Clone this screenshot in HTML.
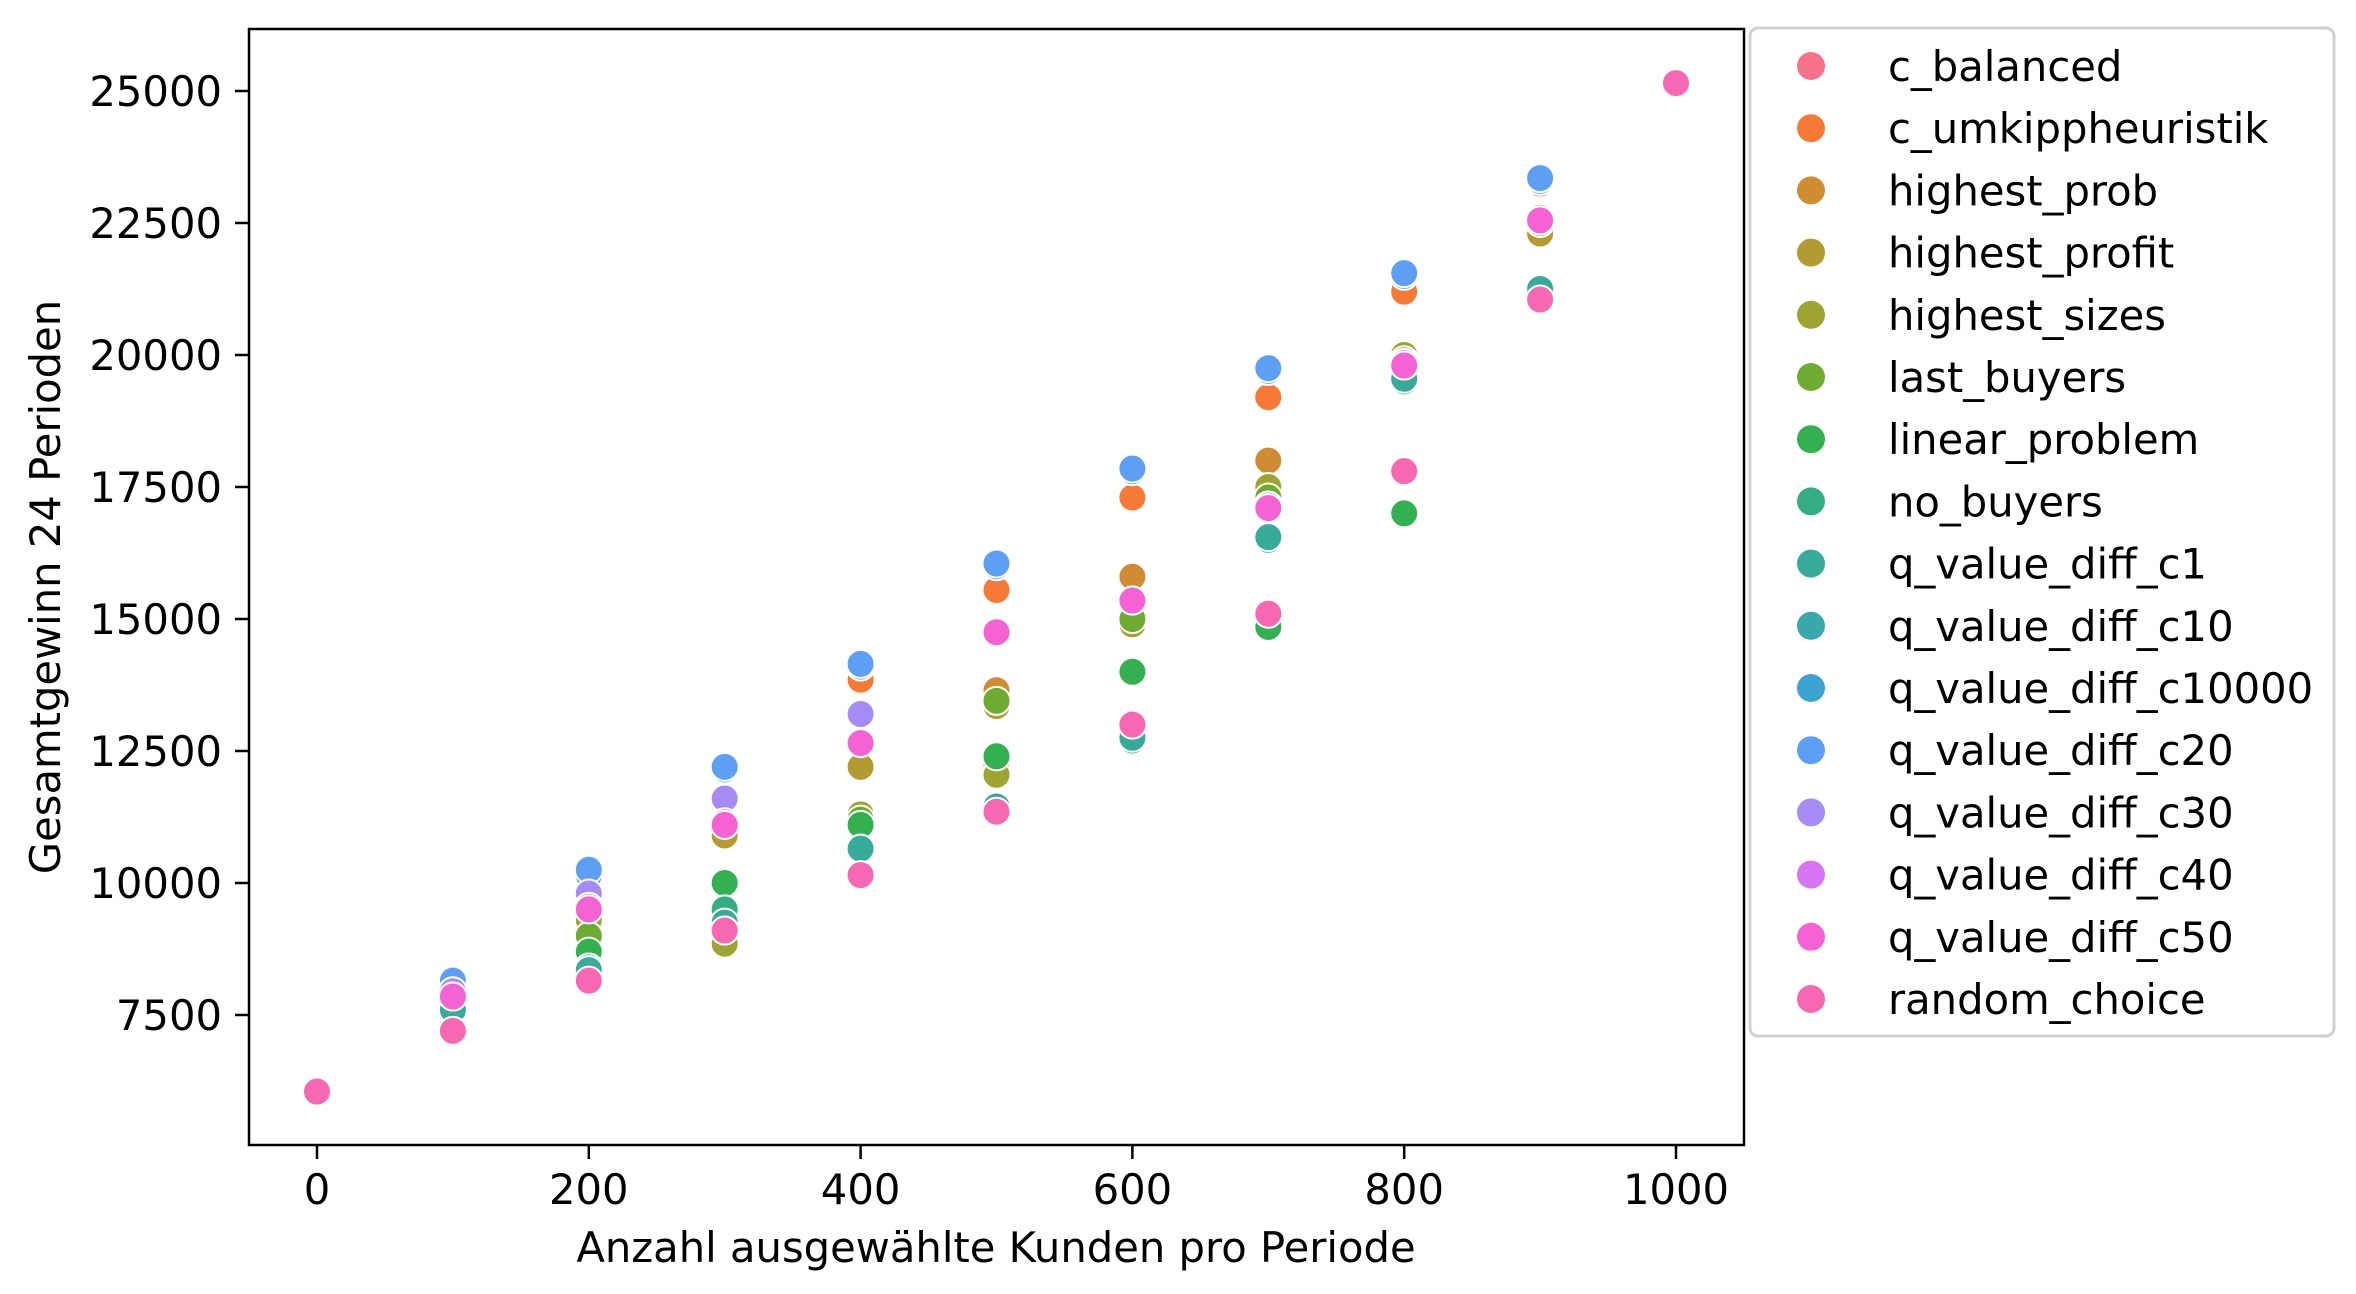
<!DOCTYPE html>
<html><head><meta charset="utf-8"><style>
html,body{margin:0;padding:0;background:#fff}
svg{display:block;font-family:"DejaVu Sans","Liberation Sans",sans-serif}
</style></head><body>
<svg id="chart" width="2356" height="1294" viewBox="0 0 2356 1294">
<rect width="2356" height="1294" fill="#fff"/>
<g id="marks"></g>
<rect x="249" y="29" width="1495" height="1116" fill="none" stroke="#000" stroke-width="2.5"/>
<g id="xaxis"></g>
<g id="yaxis"></g>
<text x="996" y="1262" font-size="41.7" text-anchor="middle">Anzahl ausgewählte Kunden pro Periode</text>
<text transform="translate(60,587) rotate(-90)" font-size="41.7" text-anchor="middle">Gesamtgewinn 24 Perioden</text>
<rect x="1750" y="28" width="584" height="1008" rx="8" fill="#fff" stroke="#d0d0d0" stroke-width="3"/>
<g id="legend"></g>
</svg>
<script>
const xValues = [0,100,200,300,400,500,600,700,800,900,1000];
const xTicks = [0,200,400,600,800,1000];
const yTicks = [7500,10000,12500,15000,17500,20000,22500,25000];
const seriesNames = ["c_balanced","c_umkippheuristik","highest_prob","highest_profit","highest_sizes","last_buyers","linear_problem","no_buyers","q_value_diff_c1","q_value_diff_c10","q_value_diff_c10000","q_value_diff_c20","q_value_diff_c30","q_value_diff_c40","q_value_diff_c50","random_choice"];
const seriesColors = ["#f77189","#f67a35","#d08c32","#b39a31","#9da431","#6eab31","#33b050","#35ad82","#37aa9b","#38a8ad","#3ba3cf","#5d9ff3","#a48cf4","#d774f4","#f562d4","#f668b2"];
const cBalanced = [6050,7800,9450,11150,12200,12250,15000,17300,19900,22500,25150];
const cUmkipp = [6050,7900,10200,12150,13850,15550,17300,19200,21200,23250,25150];
const highestProb = [6050,7800,9400,11200,12200,13650,15800,18000,19950,22400,25150];
const highestProfit = [6050,7750,9400,10900,12200,13350,14900,17400,19950,22300,25150];
const highestSizes = [6050,7700,9300,8850,11300,12050,14900,17500,20000,22600,25150];
const lastBuyers = [6050,7600,9000,9200,11200,13450,15000,17300,19900,22500,25150];
const linearProblem = [6050,7450,8700,10000,11100,12400,14000,14850,17000,21250,25150];
const noBuyers = [6050,7550,8400,9500,10650,11400,12700,16500,19500,21200,25150];
const qC1 = [6050,7600,8350,9250,10650,11450,12750,16550,19550,21250,25150];
const qC10 = [6050,8100,10150,12150,14100,16000,17800,19700,21500,23300,25150];
const qC10000 = [6050,8100,10150,12150,14100,16000,17800,19700,21500,23300,25150];
const qC20 = [6050,8150,10250,12200,14150,16050,17850,19750,21550,23350,25150];
const qC30 = [6050,7950,9800,11600,13200,14750,15350,17150,19850,22550,25150];
const qC40 = [6050,7850,9550,11150,12650,14750,15350,17100,19800,22550,25150];
const qC50 = [6050,7850,9500,11100,12650,14750,15350,17100,19800,22550,25150];
const randomChoice = [6050,7200,8150,9100,10150,11350,13000,15100,17800,21050,25150];
const allSeries = [cBalanced,cUmkipp,highestProb,highestProfit,highestSizes,lastBuyers,linearProblem,noBuyers,qC1,qC10,qC10000,qC20,qC30,qC40,qC50,randomChoice];

const NS="http://www.w3.org/2000/svg";
function xScale(v){return 317+(v-0)*(1676-317)/1000;}
function yScale(v){return 1015-(v-7500)*(1015-91)/17500;}
function mk(tag,attrs,parent){const e=document.createElementNS(NS,tag);for(const k in attrs)e.setAttribute(k,attrs[k]);parent.appendChild(e);return e;}

const marks=document.getElementById('marks');
allSeries.forEach((vals,si)=>{
  vals.forEach((v,i)=>{
    if(v===null)return;
    const c=mk('circle',{cx:xScale(xValues[i]),cy:yScale(v),r:14,fill:seriesColors[si],stroke:'#fff','stroke-width':2},marks);
    
    
  });
});

const xa=document.getElementById('xaxis');
xTicks.forEach(t=>{
  const x=xScale(t);
  const l=mk('line',{x1:x,x2:x,y1:1145,y2:1159,stroke:'#000','stroke-width':2.5},xa);
  
  
  const tx=mk('text',{x:x,y:1204,'font-size':41.7,'text-anchor':'middle'},xa);
  tx.textContent=t;
  
  
});
const ya=document.getElementById('yaxis');
yTicks.forEach(t=>{
  const y=yScale(t);
  const l=mk('line',{x1:235,x2:249,y1:y,y2:y,stroke:'#000','stroke-width':2.5},ya);
  
  
  const tx=mk('text',{x:222,y:y+15,'font-size':41.7,'text-anchor':'end'},ya);
  tx.textContent=t;
  
  
});

const lg=document.getElementById('legend');
seriesNames.forEach((n,i)=>{
  const y=66+i*62.2;
  const g=mk('g',{},lg);
  
  
  mk('circle',{cx:1811,cy:y,r:14,fill:seriesColors[i]},g);
  const t=mk('text',{x:1888,y:y+15,'font-size':41.7},g);
  t.textContent=n;
});
</script>
</body></html>
